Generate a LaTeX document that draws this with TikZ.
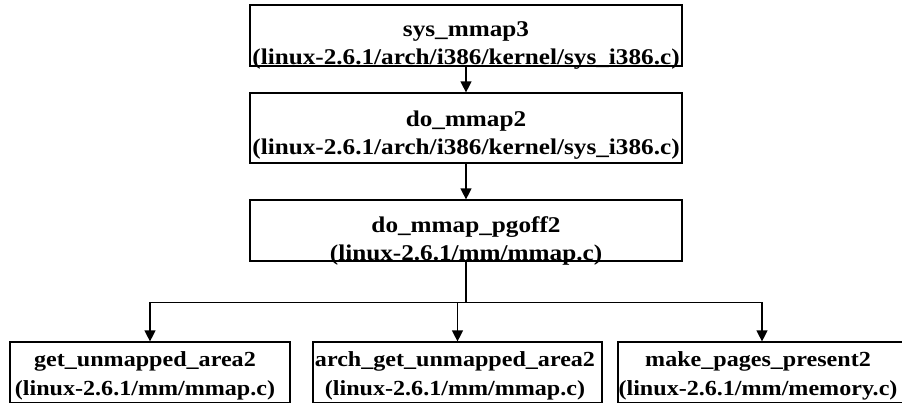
\documentclass[tikz,border=0pt]{standalone}
\usepackage{fontspec}
\setmainfont[FakeStretch=1.12]{Liberation Serif}
\usetikzlibrary{arrows.meta,positioning}
\begin{document}
\begin{tikzpicture}[x=1pt,y=-1pt,
  box/.style={draw,line width=1.2pt,inner sep=0pt},
  txt/.style={inner sep=0pt,align=center,font=\fontsize{22.5}{28}\selectfont\bfseries},
  btxt/.style={txt,font=\fontsize{21.5}{28.5}\selectfont\bfseries},
  arr/.style={line width=1.2pt,-{Triangle[length=11pt,width=11pt]}},
  wire/.style={line width=1.2pt}]
\useasboundingbox (0,0) rectangle (902,402);
% boxes
\node[box,minimum width=432pt,minimum height=61pt] (b1) at (466,35.5) {};
\node[box,minimum width=432pt,minimum height=70pt] (b2) at (466,128) {};
\node[box,minimum width=432pt,minimum height=61pt] (b3) at (466,230.5) {};
\node[box,minimum width=280pt,minimum height=61pt] (b4) at (150,372.5) {};
\node[box,minimum width=289pt,minimum height=61pt] (b5) at (457.5,372.5) {};
\node[box,minimum width=288pt,minimum height=61pt] (b6) at (762,372.5) {};
% texts
\node[txt] (t1) at (466,45) {sys\_mmap3\\(linux-2.6.1/arch/i386/kernel/sys\_i386.c)};
\node[txt] (t2) at (466,135) {do\_mmap2\\(linux-2.6.1/arch/i386/kernel/sys\_i386.c)};
\node[txt] (t3) at (466,240.5) {do\_mmap\_pgoff2\\(linux-2.6.1/mm/mmap.c)};
\node[btxt] (t4) at (145,376) {get\_unmapped\_area2\\(linux-2.6.1/mm/mmap.c)};
\node[btxt] (t5) at (455,376) {arch\_get\_unmapped\_area2\\(linux-2.6.1/mm/mmap.c)};
\node[btxt] (t6) at (758,376) {make\_pages\_present2\\(linux-2.6.1/mm/memory.c)};
% connectors
\draw[arr] (b1) -- (b2);
\draw[arr] (b2) -- (b3);
\draw[wire] (b3.south) -- ++(0,41) coordinate (j);
\draw[arr] (j) -| (b4.north);
\draw[arr] (j) -| (b6.north);
\draw[arr] (j -| b5.north) -- (b5.north);
\end{tikzpicture}
\end{document}
